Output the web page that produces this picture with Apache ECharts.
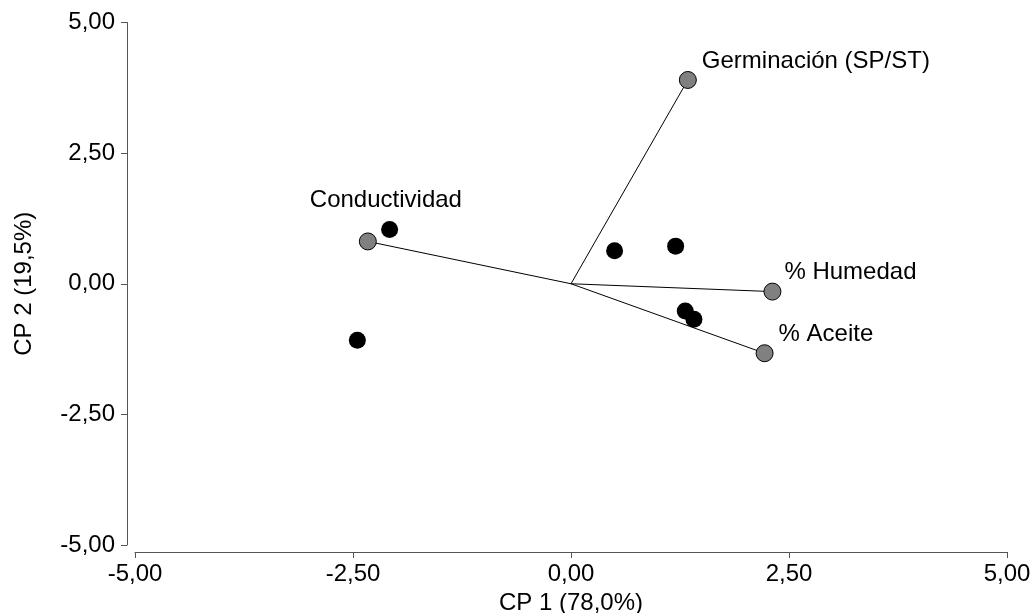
<!DOCTYPE html>
<html>
<head>
<meta charset="utf-8">
<script src="https://cdn.jsdelivr.net/npm/echarts@6/dist/echarts.min.js"></script>
<style>
  html, body { margin: 0; padding: 0; background: #fff; }
  #chart { width: 1035px; height: 613px; }
</style>
</head>
<body>
<div id="chart"></div>
<script>
// Variable loadings (grey circles, joined to the origin)
const variableNames = ['Germinación (SP/ST)', 'Conductividad', '% Humedad', '% Aceite'];
const variableCP1 = [1.34, -2.33, 2.31, 2.22];
const variableCP2 = [3.90, 0.81, -0.15, -1.33];

// Observation scores (black circles)
const scoreCP1 = [-2.08, -2.45, 0.50, 1.20, 1.31, 1.41];
const scoreCP2 = [1.04, -1.08, 0.63, 0.72, -0.52, -0.68];

// Axis ticks
const axisTicks = [-5, -2.5, 0, 2.5, 5];
const xAxisTitle = 'CP 1 (78,0%)';
const yAxisTitle = 'CP 2 (19,5%)';

const FONT = "'Liberation Sans', Arial, sans-serif";
const FS = 24;
const AXIS_COLOR = '#555';

// Label placement around each loading marker (pixels from marker centre)
const labelOffset = {
  'Germinación (SP/ST)': [14, -19],
  'Conductividad': [-58, -41],
  '% Humedad': [12, -19],
  '% Aceite': [14, -19]
};

const fmt = v => v.toFixed(2).replace('.', ',');

const vectorSeries = variableNames.map((name, i) => ({
  type: 'line',
  silent: true,
  symbol: 'none',
  z: 1,
  lineStyle: { color: '#000', width: 1, opacity: 1 },
  data: [[0, 0], [variableCP1[i], variableCP2[i]]]
}));

const option = {
  animation: false,
  backgroundColor: '#fff',
  grid: {
    left: 135, right: 28, top: 22.5, bottom: 68,
    containLabel: false,
    outerBoundsMode: 'none'
  },
  xAxis: {
    type: 'value',
    min: axisTicks[0],
    max: axisTicks[axisTicks.length - 1],
    interval: 2.5,
    offset: 7,
    name: xAxisTitle,
    nameLocation: 'middle',
    nameGap: 35,
    nameTextStyle: { fontFamily: FONT, fontSize: FS, color: '#000' },
    axisLine: { show: true, onZero: false, lineStyle: { color: AXIS_COLOR, width: 1 } },
    axisTick: { show: true, length: 6, lineStyle: { color: AXIS_COLOR } },
    axisLabel: { formatter: fmt, fontFamily: FONT, fontSize: FS, color: '#000', margin: 10 },
    splitLine: { show: false }
  },
  yAxis: {
    type: 'value',
    min: axisTicks[0],
    max: axisTicks[axisTicks.length - 1],
    interval: 2.5,
    offset: 8,
    name: yAxisTitle,
    nameLocation: 'middle',
    nameGap: 91,
    nameTextStyle: { fontFamily: FONT, fontSize: FS, color: '#000' },
    axisLine: { show: true, onZero: false, lineStyle: { color: AXIS_COLOR, width: 1 } },
    axisTick: { show: true, length: 6, lineStyle: { color: AXIS_COLOR } },
    axisLabel: { formatter: fmt, fontFamily: FONT, fontSize: FS, color: '#000', margin: 12 },
    splitLine: { show: false }
  },
  series: [
    ...vectorSeries,
    {
      type: 'scatter',
      z: 3,
      symbol: 'circle',
      symbolSize: 17,
      itemStyle: { color: '#000', borderWidth: 0, opacity: 1 },
      data: scoreCP1.map((x, i) => [x, scoreCP2[i]])
    },
    {
      type: 'scatter',
      z: 4,
      symbol: 'circle',
      symbolSize: 17,
      itemStyle: { color: '#808080', borderColor: '#000', borderWidth: 1, opacity: 1 },
      data: variableNames.map((name, i) => ({
        name: name,
        value: [variableCP1[i], variableCP2[i]],
        label: {
          show: true,
          formatter: name,
          position: 'inside',
          align: 'left',
          verticalAlign: 'middle',
          offset: labelOffset[name],
          fontFamily: FONT,
          fontSize: FS,
          color: '#000',
          opacity: 1,
          textBorderWidth: 0
        }
      }))
    }
  ]
};

const chart = echarts.init(document.getElementById('chart'), null, { renderer: 'canvas' });
chart.setOption(option);
</script>
</body>
</html>
